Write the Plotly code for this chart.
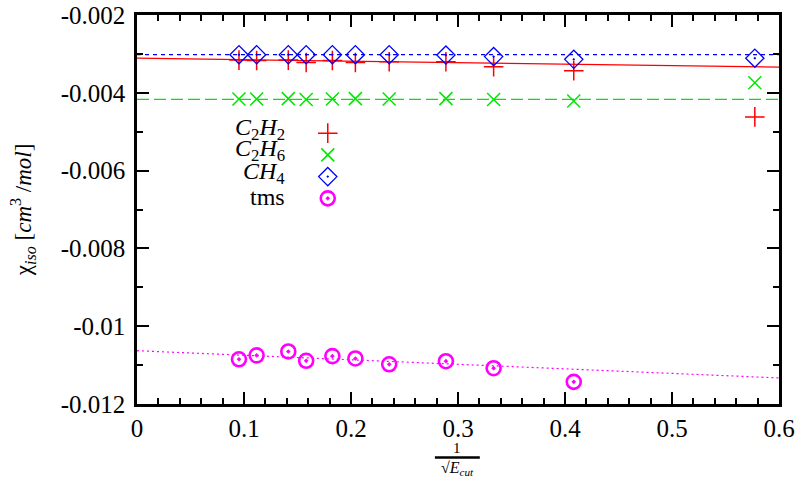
import plotly.graph_objects as go

# ---- data ----
inv_sqrt_ecut = [0.0953, 0.1118, 0.1414, 0.1581, 0.1826, 0.2041, 0.2357, 0.2887, 0.3333, 0.4082, 0.5774]
c2h2 = [-0.00316, -0.00317, -0.00316, -0.00322, -0.00317, -0.00322, -0.00320, -0.00320, -0.00333, -0.00343, -0.00462]
c2h6 = [-0.00416, -0.00416, -0.00415, -0.00417, -0.00416, -0.00415, -0.00416, -0.00415, -0.00417, -0.00421, -0.00374]
ch4 = [-0.00302, -0.00302, -0.00302, -0.00302, -0.00302, -0.00302, -0.00302, -0.00303, -0.00307, -0.00314, -0.00311]
tms_x = [0.0953, 0.1118, 0.1414, 0.1581, 0.1826, 0.2041, 0.2357, 0.2887, 0.3333, 0.4082]
tms = [-0.01085, -0.01075, -0.01065, -0.01089, -0.01077, -0.01083, -0.01098, -0.01090, -0.01108, -0.01143]

fit_x = [0.0, 0.6]
c2h2_fit = [-0.00311, -0.00334]
c2h6_fit = [-0.00417, -0.00417]
ch4_fit = [-0.00302, -0.00302]
tms_fit = [-0.01063, -0.01133]

y_tickvals = [-0.012, -0.01, -0.008, -0.006, -0.004, -0.002]
y_ticktext = ["-0.012", "-0.01", "-0.008", "-0.006", "-0.004", "-0.002"]
x_tickvals = [0, 0.1, 0.2, 0.3, 0.4, 0.5, 0.6]
x_ticktext = ["0", "0.1", "0.2", "0.3", "0.4", "0.5", "0.6"]

legend_labels = [
    "<i>C</i><sub>2</sub><i>H</i><sub>2</sub>",
    "<i>C</i><sub>2</sub><i>H</i><sub>6</sub>",
    "<i>CH</i><sub>4</sub>",
    "tms",
]

RED, GREEN, BLUE, MAG = "#ff0000", "#00e600", "#0000ff", "#ff00ff"
FONT = "Liberation Serif"

fig = go.Figure()

# fit lines
fig.add_trace(go.Scatter(x=fit_x, y=c2h2_fit, mode="lines", line=dict(color=RED, width=1.2), showlegend=False, hoverinfo="skip"))
fig.add_trace(go.Scatter(x=fit_x, y=c2h6_fit, mode="lines", line=dict(color=GREEN, width=1.2, dash="12px,5px"), showlegend=False, hoverinfo="skip"))
fig.add_trace(go.Scatter(x=fit_x, y=ch4_fit, mode="lines", line=dict(color=BLUE, width=1.2, dash="4px,4px"), showlegend=False, hoverinfo="skip"))
fig.add_trace(go.Scatter(x=fit_x, y=tms_fit, mode="lines", line=dict(color=MAG, width=1.2, dash="2px,3px"), showlegend=False, hoverinfo="skip"))

# data points
fig.add_trace(go.Scatter(x=inv_sqrt_ecut, y=c2h2, mode="markers", name=" ",
                         marker=dict(symbol="cross-thin-open", size=14, line=dict(color=RED, width=1.5), color=RED)))
fig.add_trace(go.Scatter(x=inv_sqrt_ecut, y=c2h6, mode="markers", name=" ",
                         marker=dict(symbol="x-thin-open", size=13, line=dict(color=GREEN, width=1.5), color=GREEN)))
fig.add_trace(go.Scatter(x=inv_sqrt_ecut, y=ch4, mode="markers", name=" ",
                         marker=dict(symbol="diamond-open-dot", size=14, line=dict(color=BLUE, width=1.3), color=BLUE)))
fig.add_trace(go.Scatter(x=tms_x, y=tms, mode="markers", name=" ",
                         marker=dict(symbol="circle-open-dot", size=14, line=dict(color=MAG, width=2.6), color=MAG)))

axis_common = dict(
    showline=True, linewidth=2.5, linecolor="black", mirror="allticks",
    ticks="inside", ticklen=12, tickwidth=1.5, tickcolor="black",
    showgrid=False, zeroline=False, automargin=False, ticklabeloverflow="allow",
    tickfont=dict(family=FONT, size=25, color="black"),
)

fig.update_xaxes(range=[0, 0.6], tickvals=x_tickvals, ticktext=x_ticktext,
                 minor=dict(ticks="inside", dtick=0.02, tick0=0, ticklen=6, tickwidth=1.5, tickcolor="black"),
                 **axis_common)
fig.update_yaxes(range=[-0.012, -0.002], tickvals=y_tickvals, ticktext=y_ticktext,
                 minor=dict(ticks="inside", dtick=0.001, tick0=-0.012, ticklen=6, tickwidth=1.5, tickcolor="black"),
                 ticklabelstandoff=4,
                 **axis_common)

annotations = []
legend_y = [0.706, 0.653, 0.594, 0.532]
for lab, yy in zip(legend_labels, legend_y):
    annotations.append(dict(xref="paper", yref="paper", x=0.2335, y=yy, text=lab, showarrow=False,
                            xanchor="right", yanchor="middle", font=dict(family=FONT, size=24, color="black")))

# y-axis title
annotations.append(dict(xref="paper", yref="paper", x=-0.178, y=0.5, textangle=-90,
                        text="χ<sub><i>iso</i></sub> [<i>cm</i><sup>3</sup> /<i>mol</i>]",
                        showarrow=False, xanchor="center", yanchor="middle",
                        font=dict(family=FONT, size=23, color="black")))
# x-axis title as a fraction
annotations.append(dict(xref="paper", yref="paper", x=0.499, y=-0.112, text="1", showarrow=False,
                        xanchor="center", yanchor="middle", font=dict(family=FONT, size=15, color="black")))
annotations.append(dict(xref="paper", yref="paper", x=0.499, y=-0.166, text="√<i>E</i><sub><i>cut</i></sub>",
                        showarrow=False, xanchor="center", yanchor="middle",
                        font=dict(family=FONT, size=16, color="black")))

fig.update_layout(
    width=798, height=482,
    margin=dict(l=137, r=19, t=15, b=78, autoexpand=False),
    plot_bgcolor="white", paper_bgcolor="white",
    font=dict(family=FONT, color="black"),
    showlegend=True,
    legend=dict(x=0.266, y=0.737, xanchor="left", yanchor="top", bgcolor="rgba(0,0,0,0)",
                font=dict(family=FONT, size=14.4), itemsizing="trace", tracegroupgap=0),
    annotations=annotations,
    shapes=[dict(type="line", xref="paper", yref="paper", x0=0.464, x1=0.534, y0=-0.1375, y1=-0.1375,
                 line=dict(color="black", width=2.5))],
)

# remove the default page margin so the 798x482 figure fills the window exactly
fig.write_html("out.html", config={"displayModeBar": False},
               post_script="document.body.style.margin='0';document.body.style.overflow='hidden';")
